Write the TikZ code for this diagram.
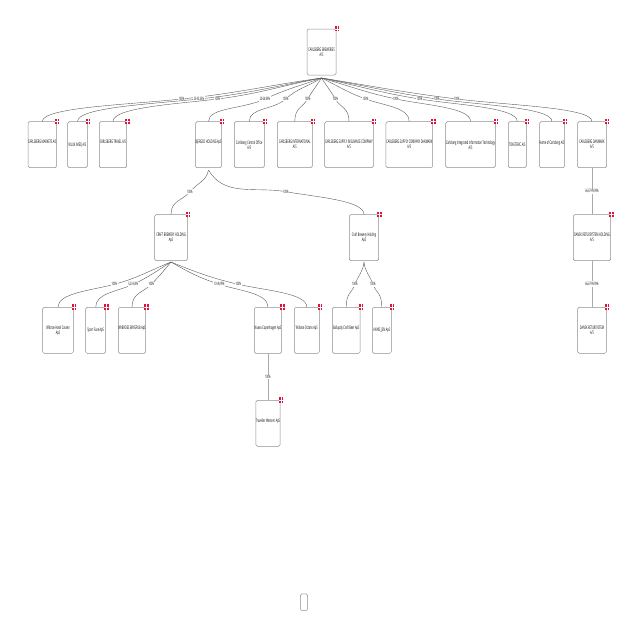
\documentclass[tikz,border=0pt]{standalone}
\usepackage{fontspec}
\setmainfont[FakeStretch=0.48]{Open Sans}
\usetikzlibrary{positioning}
\definecolor{flagred}{HTML}{DC143C}
\definecolor{boxgray}{HTML}{8E8E8E}
\definecolor{linkgray}{HTML}{5A5A5A}
\newdimen\px
\px=0.025cm

\begin{document}
\begin{tikzpicture}[x=0.025cm,y=-0.025cm,
  company/.style={rectangle,rounded corners=1.5\px,draw=boxgray,line width=0.5\px,
                  fill=white,minimum height=46\px,inner sep=0pt,align=center,
                  font=\fontsize{3.5}{3.55}\selectfont,text=black},
  flag/.style={rectangle,fill=flagred,minimum width=4.4\px,minimum height=5.4\px,inner sep=0pt,
               path picture={\draw[white,line width=0.35\px]
                 (path picture bounding box.north) -- (path picture bounding box.south)
                 (path picture bounding box.west) -- (path picture bounding box.east);}},
  link/.style={draw=linkgray,line width=0.4\px},
  straightlink/.style={draw=boxgray!75,line width=0.5\px},
  land/.style={in=90,in distance=14\px},
  pct/.style={fill=white,inner sep=0.6\px,font=\fontsize{3.2}{3.6}\selectfont,text=black}
]
  \useasboundingbox (0,0) rectangle (640,640);

  % ---- Top company ----------------------------------------------
  \node[company,minimum width=29\px] (breweries) at (321.5,52) {CARLSBERG BREWERIES\\A/S};
  \coordinate (breweriesout) at (321.5,78);

  % ---- First row ------------------------------------------------
  \node[company,minimum width=26\px] (markets) at (42.3,144.7) {CARLSBERG MARKETS A/S\\~};
  \node[company,minimum width=19.6\px] (nuuk) at (77.5,144.7) {NUUK IMEQ A/S};
  \node[company,minimum width=27.4\px] (travel) at (113,144.7) {CARLSBERG TRAVEL A/S\\~};
  \node[company,minimum width=25.6\px] (bjergso) at (208.5,144.7) {BJERGSO HOLDING ApS\\~};
  \node[company,minimum width=30\px] (central) at (249.3,144.7) {Carlsberg Central Office\\A/S};
  \node[company,minimum width=35\px] (international) at (294.8,144.7) {CARLSBERG INTERNATIONAL\\A/S};
  \node[company,minimum width=48.6\px] (insurance) at (349,144.7) {CARLSBERG SUPPLY INSURANCE COMPANY\\A/S};
  \node[company,minimum width=46.7\px] (supply) at (409.3,144.7) {CARLSBERG SUPPLY COMPANY DANMARK\\A/S};
  \node[company,minimum width=49.6\px] (integrated) at (470.5,144.7) {Carlsberg Integrated Information Technology\\A/S};
  \node[company,minimum width=18\px] (toasteric) at (517.3,144.7) {TOASTERIC A/S};
  \node[company,minimum width=24.6\px] (home) at (552,144.7) {Home of Carlsberg A/S\\~};
  \node[company,minimum width=29\px] (danmark) at (592,144.7) {CARLSBERG DANMARK\\A/S};
  \coordinate (bjergsoout) at (208.5,170);

  % ---- Second row -----------------------------------------------
  \node[company,minimum width=32.6\px] (craft) at (171,237.7) {CRAFT BREWERY HOLDING\\ApS};
  \node[company,minimum width=29.4\px] (brewery) at (364,237.7) {Craft Brewery Holding\\ApS};
  \node[company,minimum width=37.4\px] (retursys) at (592,237.7) {DANSK RETURSYSTEM HOLDING\\A/S};
  \coordinate (craftout) at (171,262);
  \coordinate (breweryout) at (364,262);

  % ---- Third row ------------------------------------------------
  \node[company,minimum width=30.6\px] (hotel) at (58,330.3) {Wiibroe Hotel Cassen\\ApS};
  \node[company,minimum width=20\px] (fuze) at (95.7,330.3) {Sport Fuze ApS};
  \node[company,minimum width=27.4\px] (brygpub) at (132,330.3) {WIIBROES BRYGPUB ApS\\~};
  \node[company,minimum width=27.4\px] (nuevo) at (268,330.3) {Nuevo Copenhagen ApS\\~};
  \node[company,minimum width=25\px] (octans) at (306.8,330.3) {Wiibroe Octans ApS\\~};
  \node[company,minimum width=27.7\px] (ballupdy) at (346.2,330.3) {Ballupdy Craft Beer ApS\\~};
  \node[company,minimum width=19\px] (annis) at (381.8,330.3) {ANNIS\_JEN ApS};
  \node[company,minimum width=28.6\px] (dansk) at (592,330.3) {DANSK RETURSYSTEM\\A/S};

  % ---- Fourth row and the empty box -----------------------------
  \node[company,minimum width=22.6\px] (traveller) at (268,423.3) {Traveller Western ApS\\~};
  \node[company,minimum width=7.4\px,minimum height=16.7\px] (blank) at (304,602.3) {};

  % ---- Flags ----------------------------------------------------
  \node[flag,xshift=0.5\px] (fbreweries) at (breweries.north east) {};
  \node[flag,xshift=0.5\px] (fmarkets) at (markets.north east) {};
  \node[flag,xshift=0.5\px] (fnuuk) at (nuuk.north east) {};
  \node[flag,xshift=0.5\px] (ftravel) at (travel.north east) {};
  \node[flag,xshift=0.5\px] (fbjergso) at (bjergso.north east) {};
  \node[flag,xshift=0.5\px] (fcentral) at (central.north east) {};
  \node[flag,xshift=0.5\px] (finternational) at (international.north east) {};
  \node[flag,xshift=0.5\px] (finsurance) at (insurance.north east) {};
  \node[flag,xshift=0.5\px] (fsupply) at (supply.north east) {};
  \node[flag,xshift=0.5\px] (fintegrated) at (integrated.north east) {};
  \node[flag,xshift=0.5\px] (ftoasteric) at (toasteric.north east) {};
  \node[flag,xshift=0.5\px] (fhome) at (home.north east) {};
  \node[flag,xshift=0.5\px] (fdanmark) at (danmark.north east) {};
  \node[flag,xshift=0.5\px] (fcraft) at (craft.north east) {};
  \node[flag,xshift=0.5\px] (fbrewery) at (brewery.north east) {};
  \node[flag,xshift=0.5\px] (fretursys) at (retursys.north east) {};
  \node[flag,xshift=0.5\px] (fhotel) at (hotel.north east) {};
  \node[flag,xshift=0.5\px] (ffuze) at (fuze.north east) {};
  \node[flag,xshift=0.5\px] (fbrygpub) at (brygpub.north east) {};
  \node[flag,xshift=0.5\px] (fnuevo) at (nuevo.north east) {};
  \node[flag,xshift=0.5\px] (foctans) at (octans.north east) {};
  \node[flag,xshift=0.5\px] (fballupdy) at (ballupdy.north east) {};
  \node[flag,xshift=0.5\px] (fannis) at (annis.north east) {};
  \node[flag,xshift=0.5\px] (fdansk) at (dansk.north east) {};
  \node[flag,xshift=0.5\px] (ftraveller) at (traveller.north east) {};

  % ---- Links from the top company -------------------------------
  \draw[link] (breweriesout) to[out=188,in=6] (181.7,99) node[pct] (p1) {100\%} to[out=186,land] (markets.north);
  \draw[link] (breweriesout) to[out=190,in=6] (199,99) node[pct] (p2) {25-33,33\%} to[out=186,land] (nuuk.north);
  \draw[link] (breweriesout) to[out=191,in=7] (217.3,99) node[pct] (p3) {100\%} to[out=187,land] (travel.north);
  \draw[link] (breweriesout) to[out=200,in=25] (265,99) node[pct] (p4) {20-24,99\%} to[out=205,land] (bjergso.north);
  \draw[link] (breweriesout) to[out=212,in=42] (285.7,99) node[pct] (p5) {100\%} to[out=222,land] (central.north);
  \draw[link] (breweriesout) to[out=238,in=60] (307.7,99) node[pct] (p6) {100\%} to[out=240,land] (international.north);
  \draw[link] (breweriesout) to[out=-57,in=120] (335.3,99) node[pct] (p7) {100\%} to[out=-60,land] (insurance.north);
  \draw[link] (breweriesout) to[out=-26,in=160] (365.7,99) node[pct] (p8) {100\%} to[out=-20,land] (supply.north);
  \draw[link] (breweriesout) to[out=-16,in=168] (396,99) node[pct] (p9) {100\%} to[out=-12,land] (integrated.north);
  \draw[link] (breweriesout) to[out=-12,in=171] (419.7,99) node[pct] (p10) {100\%} to[out=-9,land] (toasteric.north);
  \draw[link] (breweriesout) to[out=-10,in=172] (437,99) node[pct] (p11) {100\%} to[out=-8,land] (home.north);
  \draw[link] (breweriesout) to[out=-9,in=173] (457,99) node[pct] (p12) {100\%} to[out=-7,land] (danmark.north);

  % ---- Links of the holdings ------------------------------------
  \draw[link] (bjergsoout) to[out=260,in=50] (190,191.7) node[pct] (p13) {100\%} to[out=230,land] (craft.north);
  \draw[link] (bjergsoout) to[out=-60,in=170] (286,191.7) node[pct] (p14) {100\%} to[out=-10,land] (brewery.north);

  \draw[link] (craftout) to[out=202,in=15] (114.3,284.3) node[pct] (p15) {100\%} to[out=195,land] (hotel.north);
  \draw[link] (craftout) to[out=212,in=25] (133.3,284.3) node[pct] (p16) {5,23-8,9\%} to[out=205,land] (fuze.north);
  \draw[link] (craftout) to[out=230,in=45] (151.3,284.3) node[pct] (p17) {100\%} to[out=225,land] (brygpub.north);
  \draw[link] (craftout) to[out=-30,in=162] (219.3,284.3) node[pct] (p18) {10-49,99\%} to[out=-18,land] (nuevo.north);
  \draw[link] (craftout) to[out=-22,in=167] (238.3,284.3) node[pct] (p19) {100\%} to[out=-13,land] (octans.north);

  \draw[link] (breweryout) to[out=265,in=70] (355,284.3) node[pct] (p20) {100\%} to[out=250,land] (ballupdy.north);
  \draw[link] (breweryout) to[out=-85,in=110] (373,284.3) node[pct] (p21) {100\%} to[out=-70,land] (annis.north);

  % ---- Straight links -------------------------------------------
  \draw[straightlink] (danmark.south) -- node[pct] (p22) {66,67-99,99\%} (retursys.north);
  \draw[straightlink] (retursys.south) -- node[pct] (p23) {66,67-99,99\%} (dansk.north);
  \draw[straightlink] (nuevo.south) -- node[pct] (p24) {100\%} (traveller.north);

\end{tikzpicture}
\end{document}
